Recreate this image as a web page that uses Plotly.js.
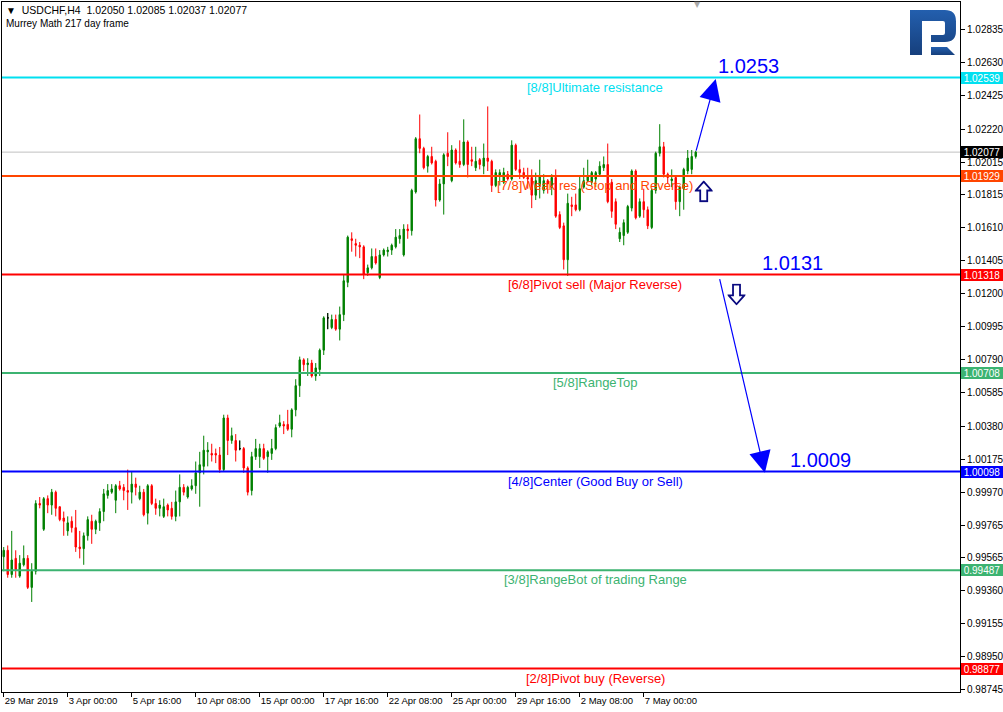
<!DOCTYPE html>
<html>
<head>
<meta charset="utf-8">
<script src="https://cdn.plot.ly/plotly-3.0.1.min.js"></script>
<style>html,body{margin:0;padding:0;background:#fff;}#chart{width:1003px;height:712px;}</style>
</head>
<body>
<div id="chart"></div>
<script>
// ---- Candle data (USDCHF H4), bar index 0 = 29 Mar 2019 08:00 ----
const openP = [
0.9957,0.9961,0.9946,0.9956,0.9945,0.9952,0.9956,0.9938,0.9948,0.9990,
0.9974,0.9993,0.9989,0.9997,0.9988,0.9981,0.9973,0.9979,0.9975,0.9963,
0.9962,0.9970,0.9979,0.9974,0.9978,0.9985,0.9995,0.9997,0.9992,1.0001,
1.0000,0.9998,0.9997,1.0002,0.9993,0.9997,0.9984,1.0001,0.9990,0.9987,
0.9982,0.9989,0.9987,0.9982,0.9991,1.0000,0.9994,0.9999,1.0001,1.0009,
1.0013,1.0022,1.0021,1.0021,1.0020,1.0011,1.0043,1.0029,1.0029,1.0024,
1.0024,1.0012,0.9998,1.0019,1.0019,1.0024,1.0019,1.0021,1.0024,1.0038,
1.0039,1.0039,1.0036,1.0048,1.0063,1.0079,1.0076,1.0077,1.0069,1.0073,
1.0085,1.0105,1.0099,1.0104,1.0098,1.0107,1.0127,1.0154,1.0151,1.0150,
1.0149,1.0133,1.0136,1.0143,1.0130,1.0144,1.0146,1.0147,1.0149,1.0154,
1.0144,1.0160,1.0159,1.0183,1.0216,1.0210,1.0199,1.0205,1.0202,1.0178,
1.0188,1.0207,1.0190,1.0209,1.0202,1.0200,1.0214,1.0203,1.0198,1.0203,
1.0199,1.0204,1.0202,1.0187,1.0193,1.0189,1.0194,1.0191,1.0212,1.0197,
1.0195,1.0192,1.0192,1.0181,1.0187,1.0184,1.0190,1.0186,1.0192,1.0169,
1.0162,1.0141,1.0175,1.0175,1.0172,1.0186,1.0190,1.0189,1.0191,1.0194,
1.0198,1.0200,1.0189,1.0177,1.0154,1.0156,1.0158,1.0173,1.0196,1.0168,
1.0177,1.0172,1.0161,1.0184,1.0207,1.0211,1.0194,1.0190,1.0192,1.0177,
1.0185,1.0196,1.0197,1.02050];
const highP = [
0.9963,0.9964,0.9973,0.9961,0.9958,0.9964,0.9958,0.9953,0.9992,0.9994,
0.9994,0.9995,0.9999,0.9998,0.9988,0.9985,0.9982,0.9982,0.9986,0.9973,
0.9972,0.9982,0.9983,0.9980,0.9987,0.9999,1.0002,1.0002,1.0002,1.0004,
1.0002,1.0011,1.0010,1.0006,1.0001,0.9999,1.0002,1.0002,0.9993,0.9992,
0.9993,0.9990,0.9991,0.9998,1.0008,1.0002,1.0001,1.0005,1.0016,1.0022,
1.0032,1.0028,1.0027,1.0024,1.0025,1.0045,1.0045,1.0037,1.0033,1.0029,
1.0025,1.0013,1.0022,1.0030,1.0027,1.0027,1.0023,1.0030,1.0039,1.0045,
1.0041,1.0048,1.0049,1.0067,1.0081,1.0080,1.0080,1.0079,1.0077,1.0086,
1.0106,1.0108,1.0107,1.0107,1.0112,1.0132,1.0156,1.0158,1.0154,1.0152,
1.0150,1.0138,1.0148,1.0148,1.0147,1.0148,1.0149,1.0151,1.0160,1.0160,
1.0163,1.0163,1.0185,1.0217,1.0231,1.0211,1.0206,1.0211,1.0203,1.0191,
1.0207,1.0220,1.0212,1.0210,1.0215,1.0228,1.0215,1.0211,1.0211,1.0204,
1.0213,1.0236,1.0203,1.0197,1.0197,1.0198,1.0196,1.0215,1.0213,1.0203,
1.0198,1.0198,1.0197,1.0195,1.0203,1.0194,1.0191,1.0194,1.0197,1.0171,
1.0164,1.0182,1.0180,1.0182,1.0193,1.0198,1.0203,1.0196,1.0196,1.0202,
1.0205,1.0213,1.0191,1.0179,1.0161,1.0166,1.0175,1.0197,1.0197,1.0179,
1.0185,1.0174,1.0185,1.0208,1.0225,1.0214,1.0195,1.0197,1.0193,1.0187,
1.0198,1.0209,1.0209,1.02085];
const lowP = [
0.9948,0.9944,0.9944,0.9944,0.9944,0.9951,0.9937,0.9929,0.9946,0.9987,
0.9973,0.9984,0.9983,0.9982,0.9979,0.9970,0.9970,0.9972,0.9960,0.9956,
0.9952,0.9967,0.9965,0.9971,0.9973,0.9979,0.9993,0.9996,0.9984,0.9998,
0.9992,0.9986,0.9990,0.9995,0.9992,0.9982,0.9977,0.9989,0.9983,0.9982,
0.9981,0.9982,0.9980,0.9979,0.9982,0.9995,0.9993,0.9998,0.9996,0.9988,
1.0008,1.0013,1.0016,1.0015,1.0009,1.0010,1.0020,1.0027,1.0016,1.0023,
1.0009,0.9995,0.9995,1.0017,1.0012,1.0017,1.0009,1.0017,1.0023,1.0037,
1.0033,1.0035,1.0031,1.0044,1.0056,1.0072,1.0069,1.0068,1.0066,1.0069,
1.0082,1.0098,1.0098,1.0097,1.0091,1.0103,1.0124,1.0146,1.0143,1.0142,
1.0129,1.0131,1.0135,1.0138,1.0129,1.0143,1.0143,1.0144,1.0148,1.0151,
1.0143,1.0154,1.0156,1.0182,1.0207,1.0197,1.0195,1.0200,1.0174,1.0177,
1.0169,1.0199,1.0189,1.0200,1.0198,1.0199,1.0192,1.0199,1.0196,1.0197,
1.0194,1.0196,1.0183,1.0186,1.0187,1.0188,1.0190,1.0190,1.0196,1.0191,
1.0191,1.0185,1.0173,1.0178,1.0179,1.0182,1.0182,1.0181,1.0167,1.0160,
1.0135,1.0131,1.0168,1.0171,1.0171,1.0185,1.0189,1.0187,1.0186,1.0193,
1.0196,1.0176,1.0167,1.0160,1.0152,1.0150,1.0157,1.0171,1.0166,1.0167,
1.0167,1.0160,1.0160,1.0182,1.0205,1.0192,1.0188,1.0186,1.0172,1.0168,
1.0172,1.0194,1.0194,1.02037];
const closeP = [
0.9961,0.9946,0.9955,0.9949,0.9953,0.9956,0.9938,0.9948,0.9990,0.9989,
0.9993,0.9989,0.9997,0.9987,0.9980,0.9979,0.9978,0.9975,0.9963,0.9962,
0.9970,0.9980,0.9974,0.9979,0.9985,0.9996,0.9998,0.9999,1.0001,0.9999,
0.9998,0.9997,1.0002,1.0000,0.9997,0.9983,1.0001,0.9990,0.9987,0.9989,
0.9988,0.9986,0.9982,0.9991,1.0000,0.9997,1.0000,1.0001,1.0009,1.0014,
1.0023,1.0023,1.0020,1.0020,1.0011,1.0043,1.0029,1.0032,1.0023,1.0024,
1.0012,0.9997,1.0019,1.0024,1.0024,1.0018,1.0022,1.0024,1.0037,1.0040,
1.0038,1.0036,1.0048,1.0063,1.0079,1.0076,1.0077,1.0069,1.0074,1.0085,
1.0105,1.0105,1.0104,1.0098,1.0107,1.0128,1.0155,1.0153,1.0150,1.0149,
1.0132,1.0136,1.0143,1.0139,1.0144,1.0147,1.0147,1.0150,1.0155,1.0156,
1.0160,1.0159,1.0184,1.0216,1.0210,1.0198,1.0205,1.0201,1.0178,1.0188,
1.0206,1.0205,1.0209,1.0201,1.0200,1.0214,1.0200,1.0202,1.0202,1.0200,
1.0204,1.0202,1.0187,1.0195,1.0195,1.0195,1.0191,1.0212,1.0197,1.0195,
1.0192,1.0191,1.0181,1.0190,1.0193,1.0190,1.0188,1.0192,1.0168,1.0161,
1.0141,1.0176,1.0174,1.0172,1.0185,1.0190,1.0193,1.0195,1.0195,1.0199,
1.0200,1.0177,1.0171,1.0163,1.0158,1.0164,1.0174,1.0196,1.0167,1.0177,
1.0172,1.0162,1.0184,1.0207,1.0211,1.0194,1.0192,1.0191,1.0177,1.0186,
1.0197,1.0204,1.0205,1.02077];

// ---- Axis ticks ----
const xTickIdx  = [0,16,32,48,64,80,96,112,128,144,160];
const xTickText = ['29 Mar 2019','3 Apr 00:00','5 Apr 16:00','10 Apr 08:00','15 Apr 00:00','17 Apr 16:00','22 Apr 08:00','25 Apr 00:00','29 Apr 16:00','2 May 08:00','7 May 00:00'];
const yTickVals = [1.02835,1.02630,1.02425,1.02220,1.02015,1.01815,1.01610,1.01405,1.01200,1.00995,1.00790,1.00585,1.00380,1.00175,0.99970,0.99765,0.99565,0.99360,0.99155,0.98950,0.98745];
const yTickText = ['1.02835','1.02630','1.02425','1.02220','1.02015','1.01815','1.01610','1.01405','1.01200','1.00995','1.00790','1.00585','1.00380','1.00175','0.99970','0.99765','0.99565','0.99360','0.99155','0.98950','0.98745'];

// ---- Murrey Math levels ----
const levelNames  = ['[8/8]Ultimate resistance','[7/8]Weak res (Stop and Reverse)','[6/8]Pivot sell (Major Reverse)','[5/8]RangeTop','[4/8]Center (Good Buy or Sell)','[3/8]RangeBot of trading Range','[2/8]Pivot buy (Reverse)'];
const levelValues = [1.02539,1.01929,1.01318,1.00708,1.00098,0.99487,0.98877];
const levelColors = ['#00E0F0','#FF4500','#FF0000','#3CB371','#0000FF','#3CB371','#FF0000'];

// ---- Forecast signals ----
const targetText   = ['1.0253','1.0131','1.0009'];
const targetLevels = [1.0253, 1.0131, 1.0009];
const targetBars   = [178, 189, 196];
const upArrowFrom  = [173, 1.02077];
const upArrowTo    = [178, 1.0253];
const dnArrowFrom  = [178.9, 1.0130];
const dnArrowTo    = [190.3, 1.0009];
const hollowUp     = [175, 1.01833];
const hollowDown   = [183.2, 1.01195];
const lastPrice    = 1.02077;

const idx = openP.map((_, i) => i);
const dojiIdx = idx.filter(i => openP[i] === closeP[i]);

const traces = [
  {
    type: 'candlestick', x: idx, open: openP, high: highP, low: lowP, close: closeP,
    increasing: {line: {color: '#008000', width: 1}, fillcolor: '#008000'},
    decreasing: {line: {color: '#FF0000', width: 1}, fillcolor: '#FF0000'},
    whiskerwidth: 0, hoverinfo: 'skip', showlegend: false
  },
  {
    type: 'candlestick', x: dojiIdx,
    open: dojiIdx.map(i => openP[i]), high: dojiIdx.map(i => highP[i]),
    low: dojiIdx.map(i => lowP[i]), close: dojiIdx.map(i => closeP[i]),
    increasing: {line: {color: '#000000', width: 1}, fillcolor: '#000000'},
    decreasing: {line: {color: '#000000', width: 1}, fillcolor: '#000000'},
    whiskerwidth: 0, hoverinfo: 'skip', showlegend: false
  }
];

const FONT = 'Liberation Sans, Arial, sans-serif';

const shapes = [
  {type: 'line', xref: 'paper', x0: 0, x1: 1, yref: 'y', y0: lastPrice, y1: lastPrice,
   line: {color: '#C0C0C0', width: 1}, layer: 'below'}
].concat(levelValues.map((v, i) => ({
  type: 'line', xref: 'paper', x0: 0, x1: 1, yref: 'y', y0: v, y1: v,
  line: {color: levelColors[i], width: 2}, layer: 'above'
})));

const annotations = [];
// level names
levelValues.forEach((v, i) => {
  annotations.push({xref: 'paper', x: 0.619, xanchor: 'center', yref: 'y', y: v, yanchor: 'top',
    text: levelNames[i], showarrow: false, font: {family: FONT, size: 13, color: levelColors[i]}});
});
// right-axis price boxes
levelValues.forEach((v, i) => {
  annotations.push({xref: 'paper', x: 1, xanchor: 'left', xshift: 1, yref: 'y', y: v, yanchor: 'middle',
    text: v.toFixed(5), showarrow: false, bgcolor: levelColors[i], borderpad: 0, borderwidth: 0,
    width: 42, height: 12, font: {family: FONT, size: 10, color: '#FFFFFF'}});
});
annotations.push({xref: 'paper', x: 1, xanchor: 'left', xshift: 1, yref: 'y', y: lastPrice, yanchor: 'middle',
  text: lastPrice.toFixed(5), showarrow: false, bgcolor: '#000000', borderpad: 0, borderwidth: 0,
  width: 42, height: 12, font: {family: FONT, size: 10, color: '#FFFFFF'}});
// forecast arrows
annotations.push({x: upArrowTo[0], y: upArrowTo[1], ax: upArrowFrom[0], ay: upArrowFrom[1],
  xref: 'x', yref: 'y', axref: 'x', ayref: 'y', text: '', showarrow: true,
  arrowhead: 2, arrowsize: 3.6, arrowwidth: 1.2, arrowcolor: '#0000FF', standoff: 0});
annotations.push({x: dnArrowTo[0], y: dnArrowTo[1], ax: dnArrowFrom[0], ay: dnArrowFrom[1],
  xref: 'x', yref: 'y', axref: 'x', ayref: 'y', text: '', showarrow: true,
  arrowhead: 2, arrowsize: 3.6, arrowwidth: 1.2, arrowcolor: '#0000FF', standoff: 0});
// target labels
targetLevels.forEach((v, i) => {
  annotations.push({x: targetBars[i], y: v, xref: 'x', yref: 'y', xanchor: 'left', yanchor: 'bottom',
    text: targetText[i], showarrow: false, font: {family: FONT, size: 20, color: '#0000FF'}});
});
// header
annotations.push({xref: 'paper', x: 0, xanchor: 'left', xshift: 2, yref: 'paper', y: 1, yanchor: 'top', yshift: 0,
  text: '<span style="font-size:10px">▼</span>  USDCHF,H4  1.02050 1.02085 1.02037 1.02077', showarrow: false, align: 'left',
  font: {family: FONT, size: 10.5, color: '#000000'}});
annotations.push({xref: 'paper', x: 0, xanchor: 'left', xshift: 2, yref: 'paper', y: 1, yanchor: 'top', yshift: -14,
  text: 'Murrey Math 217 day frame', showarrow: false, align: 'left',
  font: {family: FONT, size: 10, color: '#000000'}});
// chart shift marker
annotations.push({xref: 'paper', x: 0.7255, xanchor: 'center', yref: 'paper', y: 1, yanchor: 'top', yshift: 4,
  text: '▼', showarrow: false, font: {family: 'DejaVu Sans', size: 8, color: '#A9A9A9'}});

function svgUri(s) { return 'data:image/svg+xml;charset=utf-8,' + encodeURIComponent(s); }
const logoSvg = '<svg xmlns="http://www.w3.org/2000/svg" viewBox="0 0 46 45" width="46" height="45">' +
  '<defs><linearGradient id="g" x1="0" y1="0" x2="0" y2="1"><stop offset="0" stop-color="#235fae"/><stop offset="1" stop-color="#163f7c"/></linearGradient></defs>' +
  '<path fill="url(#g)" d="M0,0 H35 Q46,0 46,11 V21 Q46,32 35,32 H21 V25 H33 Q35,25 35,23 V13 Q35,11 33,11 H12 V45 H0 Z"/>' +
  '<path fill="url(#g)" d="M21,37 H37 L45,45 H21 Z"/></svg>';
const upSvg = '<svg xmlns="http://www.w3.org/2000/svg" viewBox="0 0 18 22" width="18" height="22">' +
  '<path d="M9,1.2 L16.8,10 H12.5 V20.8 H5.5 V10 H1.2 Z" fill="#ffffff" stroke="#0A0A80" stroke-width="1.8" stroke-linejoin="miter"/></svg>';
const dnSvg = '<svg xmlns="http://www.w3.org/2000/svg" viewBox="0 0 18 22" width="18" height="22">' +
  '<path d="M9,20.8 L16.8,12 H12.5 V1.2 H5.5 V12 H1.2 Z" fill="#ffffff" stroke="#0A0A80" stroke-width="1.8" stroke-linejoin="miter"/></svg>';

const images = [
  {source: svgUri(logoSvg), xref: 'paper', yref: 'paper', x: 0.9478, y: 0.9884, sizex: 0.048, sizey: 0.0652,
   xanchor: 'left', yanchor: 'top', sizing: 'stretch', layer: 'above'},
  {source: svgUri(upSvg), xref: 'x', yref: 'y', x: hollowUp[0], y: hollowUp[1], sizex: 4.5, sizey: 0.00136,
   xanchor: 'center', yanchor: 'middle', sizing: 'stretch', layer: 'above'},
  {source: svgUri(dnSvg), xref: 'x', yref: 'y', x: hollowDown[0], y: hollowDown[1], sizex: 4.5, sizey: 0.00136,
   xanchor: 'center', yanchor: 'middle', sizing: 'stretch', layer: 'above'}
];

const layout = {
  width: 1003, height: 712,
  margin: {l: 2, r: 43, t: 2, b: 20, pad: 0},
  paper_bgcolor: '#FFFFFF', plot_bgcolor: '#FFFFFF',
  showlegend: false, dragmode: false, hovermode: false,
  boxgap: 0.5, boxmode: 'overlay',
  font: {family: FONT, size: 10, color: '#000000'},
  xaxis: {
    range: [-0.43, 239.07], rangeslider: {visible: false}, showgrid: false, zeroline: false,
    showline: true, linecolor: '#000000', linewidth: 1, mirror: true,
    tickmode: 'array', tickvals: xTickIdx, ticktext: xTickText,
    ticks: 'outside', ticklen: 4, tickcolor: '#000000', tickwidth: 1,
    ticklabelposition: 'outside right',
    tickfont: {family: FONT, size: 9.5, color: '#000000'}, fixedrange: true
  },
  yaxis: {
    side: 'right', range: [0.98732, 1.03007], showgrid: false, zeroline: false,
    showline: true, linecolor: '#000000', linewidth: 1, mirror: true,
    tickmode: 'array', tickvals: yTickVals, ticktext: yTickText,
    ticks: 'outside', ticklen: 4, tickcolor: '#000000', tickwidth: 1,
    tickfont: {family: FONT, size: 10, color: '#000000'}, fixedrange: true
  },
  shapes: shapes,
  annotations: annotations,
  images: images
};

Plotly.newPlot('chart', traces, layout, {displayModeBar: false, staticPlot: true});
</script>
</body>
</html>
